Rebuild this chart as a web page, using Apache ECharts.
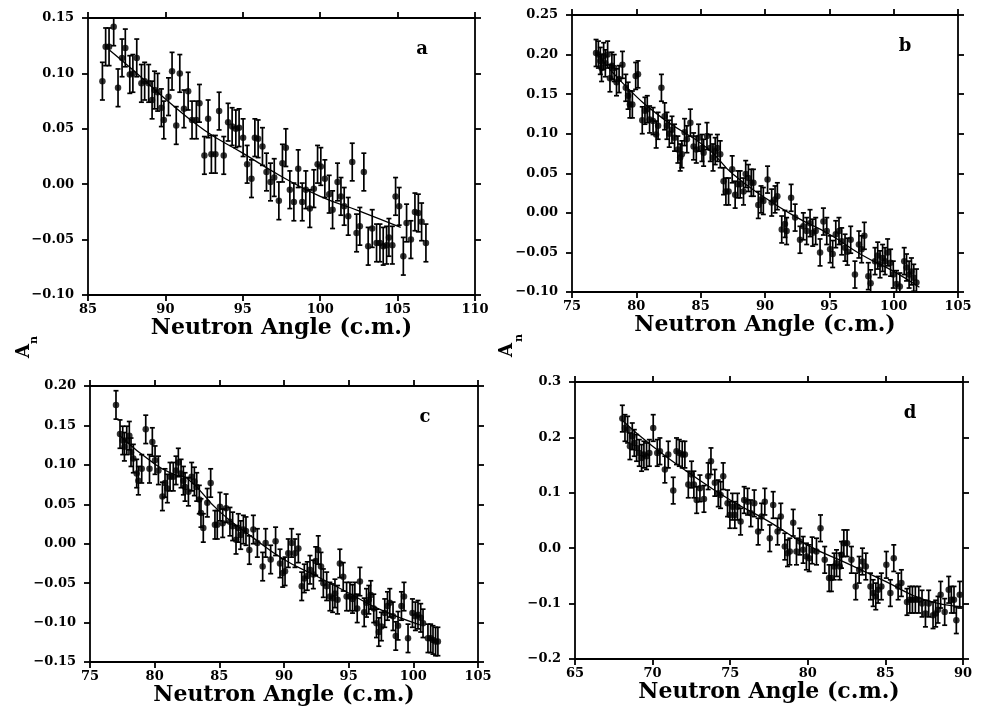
<!DOCTYPE html>
<html>
<head>
<meta charset="UTF-8">
<title>A_n vs Neutron Angle</title>
<script src="https://cdn.jsdelivr.net/npm/echarts@6/dist/echarts.min.js"></script>
<style>
	html, body { margin: 0; padding: 0; background: #fff; }
	#chart { width: 990px; height: 715px; }
</style>
</head>
<body>
<div id="chart"></div>
<script>
// panel a : [angle, A_n]
var ptsA = [[85.93,0.093],[86.14,0.124],[86.36,0.124],[86.66,0.142],[86.94,0.087],[87.2,0.114],[87.41,0.123],[87.7,0.099],[87.9,0.1],[88.15,0.114],
	[88.45,0.091],[88.66,0.093],[88.92,0.091],[89.14,0.076],[89.3,0.085],[89.5,0.083],[89.74,0.069],[89.9,0.058],[90.2,0.079],[90.43,0.102],
	[90.7,0.053],[90.93,0.1],[91.2,0.068],[91.47,0.084],[91.72,0.058],[92.0,0.058],[92.2,0.073],[92.52,0.026],[92.76,0.059],[92.97,0.027],
	[93.23,0.027],[93.47,0.066],[93.77,0.026],[94.05,0.056],[94.31,0.052],[94.55,0.05],[94.76,0.051],[95.02,0.042],[95.28,0.018],[95.56,0.005],
	[95.78,0.042],[95.99,0.041],[96.27,0.034],[96.53,0.011],[96.79,0.002],[97.03,0.006],[97.33,-0.015],[97.56,0.019],[97.78,0.033],[98.04,-0.005],
	[98.3,-0.016],[98.58,0.014],[98.84,-0.016],[99.07,-0.005],[99.33,-0.022],[99.59,-0.004],[99.83,0.018],[100.04,0.016],[100.3,0.005],[100.58,-0.009],
	[100.8,-0.023],[101.12,0.002],[101.34,-0.011],[101.55,-0.02],[101.81,-0.029],[102.07,0.02],[102.35,-0.044],[102.56,-0.038],[102.82,0.011],[103.1,-0.056],
	[103.36,-0.04],[103.64,-0.053],[103.86,-0.053],[104.07,-0.056],[104.29,-0.055],[104.44,-0.048],[104.66,-0.055],[104.87,-0.011],[105.1,-0.02],[105.37,-0.065],
	[105.58,-0.035],[105.86,-0.05],[106.12,-0.025],[106.34,-0.026],[106.55,-0.034],[106.83,-0.053]];
var errA = 0.017;
var fitA = [[86.4,0.121],[88,0.102],[90,0.077],[92.5,0.049],[95,0.028],[97.5,0.007],[100,-0.011],[102.5,-0.024],[105.2,-0.039]];

// panel b
var ptsB = [[76.87,0.202],[77.05,0.2],[77.2,0.192],[77.3,0.183],[77.46,0.198],[77.59,0.189],[77.77,0.2],[77.95,0.17],[78.1,0.186],[78.28,0.183],
	[78.46,0.165],[78.66,0.169],[78.92,0.187],[79.18,0.158],[79.36,0.148],[79.5,0.137],[79.69,0.137],[79.95,0.173],[80.13,0.175],[80.46,0.117],
	[80.67,0.129],[80.85,0.131],[81.03,0.118],[81.3,0.116],[81.54,0.099],[81.69,0.11],[81.95,0.158],[82.2,0.122],[82.38,0.11],[82.56,0.1],
	[82.77,0.105],[82.97,0.095],[83.23,0.08],[83.41,0.07],[83.54,0.074],[83.75,0.102],[83.93,0.093],[84.2,0.114],[84.45,0.084],[84.66,0.08],
	[84.84,0.095],[85.1,0.082],[85.23,0.076],[85.49,0.097],[85.75,0.082],[85.96,0.07],[86.13,0.078],[86.3,0.082],[86.52,0.074],[86.78,0.04],
	[86.96,0.027],[87.17,0.027],[87.45,0.055],[87.68,0.023],[87.89,0.036],[88.07,0.036],[88.33,0.027],[88.5,0.049],[88.71,0.044],[88.93,0.038],
	[89.1,0.038],[89.48,0.01],[89.69,0.017],[89.87,0.015],[90.2,0.042],[90.52,0.013],[90.78,0.017],[90.96,0.021],[91.3,-0.021],[91.55,-0.014],
	[91.68,-0.023],[92.03,0.019],[92.34,-0.006],[92.72,-0.034],[92.98,-0.017],[93.24,-0.023],[93.5,-0.013],[93.71,-0.025],[93.94,-0.023],[94.28,-0.05],
	[94.54,-0.011],[94.8,-0.023],[95.06,-0.046],[95.26,-0.052],[95.5,-0.027],[95.75,-0.023],[95.96,-0.036],[96.22,-0.044],[96.4,-0.049],[96.66,-0.034],
	[96.99,-0.078],[97.3,-0.04],[97.51,-0.046],[97.72,-0.029],[98.03,-0.08],[98.21,-0.089],[98.55,-0.061],[98.76,-0.054],[98.94,-0.065],[99.14,-0.057],
	[99.33,-0.061],[99.53,-0.05],[99.76,-0.063],[99.97,-0.078],[100.22,-0.09],[100.48,-0.093],[100.82,-0.061],[101.0,-0.069],[101.2,-0.078],[101.38,-0.074],
	[101.56,-0.082],[101.77,-0.088]];
var errB = 0.017;
var fitB = [[77,0.2],[79,0.163],[82,0.12],[85.5,0.082],[87.5,0.049],[90,0.019],[92.5,-0.006],[95,-0.027],[97.5,-0.053],[100,-0.074],[102,-0.094]];

// panel c
var ptsC = [[77.01,0.176],[77.32,0.139],[77.53,0.131],[77.66,0.123],[77.84,0.131],[78.04,0.137],[78.17,0.116],[78.35,0.108],[78.61,0.089],[78.74,0.08],
	[79.0,0.095],[79.31,0.145],[79.6,0.095],[79.82,0.129],[80.03,0.106],[80.29,0.093],[80.6,0.06],[80.8,0.077],[80.98,0.07],[81.19,0.085],
	[81.44,0.085],[81.65,0.093],[81.83,0.103],[82.04,0.089],[82.22,0.08],[82.35,0.072],[82.61,0.066],[82.86,0.085],[83.07,0.079],[83.25,0.072],
	[83.45,0.056],[83.58,0.039],[83.76,0.02],[84.07,0.052],[84.33,0.077],[84.66,0.024],[84.84,0.024],[85.05,0.047],[85.26,0.026],[85.52,0.045],
	[85.82,0.028],[86.03,0.022],[86.29,0.005],[86.47,0.02],[86.65,0.011],[86.86,0.018],[87.06,0.016],[87.32,-0.008],[87.63,0.018],[87.94,0.001],
	[88.35,-0.029],[88.58,0.001],[88.97,-0.02],[89.35,0.003],[89.69,-0.025],[89.9,-0.037],[90.08,-0.035],[90.33,-0.012],[90.59,0.001],[90.85,-0.012],
	[91.11,-0.006],[91.37,-0.054],[91.57,-0.044],[91.8,-0.041],[92.01,-0.033],[92.27,-0.039],[92.45,-0.022],[92.65,-0.008],[92.86,-0.029],[93.04,-0.05],
	[93.3,-0.054],[93.55,-0.067],[93.76,-0.069],[93.94,-0.063],[94.14,-0.071],[94.32,-0.025],[94.58,-0.042],[94.84,-0.067],[95.1,-0.067],[95.3,-0.07],
	[95.48,-0.067],[95.66,-0.082],[95.87,-0.048],[96.2,-0.087],[96.38,-0.075],[96.56,-0.071],[96.71,-0.065],[96.94,-0.082],[97.15,-0.101],[97.33,-0.112],
	[97.53,-0.105],[97.79,-0.088],[98.0,-0.079],[98.18,-0.075],[98.43,-0.092],[98.64,-0.117],[98.82,-0.104],[99.08,-0.079],[99.28,-0.067],[99.59,-0.12],
	[99.93,-0.088],[100.16,-0.092],[100.36,-0.09],[100.57,-0.094],[100.75,-0.101],[101.13,-0.12],[101.34,-0.12],[101.52,-0.122],[101.72,-0.124],[101.9,-0.124]];
var errC = 0.018;
var fitC = [[77.3,0.137],[80,0.101],[81.5,0.088],[82.5,0.083],[85,0.041],[87.5,0.009],[90,-0.02],[92.5,-0.041],[95,-0.0625],[97.5,-0.084],[100.5,-0.103]];

// panel d
var ptsD = [[68.05,0.234],[68.22,0.217],[68.39,0.214],[68.54,0.184],[68.69,0.202],[68.82,0.19],[68.97,0.181],[69.14,0.172],[69.29,0.163],[69.44,0.169],
	[69.61,0.166],[69.79,0.172],[70.04,0.217],[70.3,0.172],[70.47,0.175],[70.79,0.142],[71.01,0.169],[71.33,0.104],[71.54,0.175],[71.72,0.172],
	[71.91,0.169],[72.08,0.169],[72.3,0.115],[72.51,0.133],[72.66,0.115],[72.84,0.087],[73.05,0.108],[73.31,0.089],[73.58,0.13],[73.76,0.157],
	[74.01,0.118],[74.23,0.099],[74.38,0.096],[74.55,0.13],[74.83,0.081],[74.98,0.06],[75.15,0.075],[75.3,0.06],[75.47,0.075],[75.67,0.048],
	[75.9,0.087],[76.12,0.084],[76.33,0.063],[76.55,0.081],[76.8,0.03],[77.02,0.057],[77.23,0.084],[77.55,0.018],[77.77,0.078],[78.05,0.03],
	[78.26,0.057],[78.52,0.003],[78.69,-0.009],[78.84,-0.006],[79.06,0.046],[79.27,-0.006],[79.48,0.012],[79.7,-0.003],[79.91,-0.015],[80.09,-0.018],
	[80.28,-0.004],[80.56,-0.006],[80.82,0.036],[81.09,-0.021],[81.37,-0.054],[81.52,-0.054],[81.7,-0.033],[81.85,-0.027],[82.06,-0.033],[82.17,-0.012],
	[82.32,0.009],[82.53,0.009],[82.81,-0.021],[83.09,-0.069],[83.31,-0.039],[83.52,-0.024],[83.74,-0.033],[84.04,-0.069],[84.21,-0.081],[84.38,-0.087],
	[84.53,-0.075],[84.74,-0.069],[85.06,-0.03],[85.32,-0.081],[85.54,-0.018],[85.82,-0.069],[86.03,-0.063],[86.39,-0.097],[86.57,-0.093],[86.74,-0.093],
	[86.93,-0.093],[87.15,-0.093],[87.36,-0.1],[87.58,-0.118],[87.79,-0.1],[88.07,-0.121],[88.24,-0.118],[88.39,-0.111],[88.56,-0.084],[88.82,-0.115],
	[89.08,-0.075],[89.25,-0.093],[89.42,-0.093],[89.57,-0.13],[89.79,-0.084]];
var errD = 0.024;
var fitD = [[68,0.232],[70,0.184],[72.5,0.133],[75,0.087],[77.5,0.048],[80,0.005],[82.5,-0.027],[85,-0.06],[87.5,-0.093],[90,-0.106]];

var panels = [
	{pts: ptsA, err: errA, fit: fitA, xMin: 85, xMax: 110, yMin: -0.10, yMax: 0.15, yStep: 0.05, dec: 2, left: 88, top: 18, width: 387, height: 277},
	{pts: ptsB, err: errB, fit: fitB, xMin: 75, xMax: 105, yMin: -0.10, yMax: 0.25, yStep: 0.05, dec: 2, left: 572, top: 15, width: 386, height: 277},
	{pts: ptsC, err: errC, fit: fitC, xMin: 75, xMax: 105, yMin: -0.15, yMax: 0.20, yStep: 0.05, dec: 2, left: 90, top: 386, width: 388, height: 276},
	{pts: ptsD, err: errD, fit: fitD, xMin: 65, xMax: 90, yMin: -0.2, yMax: 0.3, yStep: 0.1, dec: 1, left: 575, top: 382, width: 388, height: 277}
];
var letters = ['a', 'b', 'c', 'd'];

var serif = 'DejaVu Serif';
var axisLineStyle = {color: '#000', width: 1.8};
var tickLabel = {color: '#000', fontFamily: serif, fontWeight: 'bold', fontSize: 13};

function yFormatter(dec) {
	return function(v) {
		if (Math.abs(v) < 1e-9) v = 0;
		return v.toFixed(dec).replace('-', '\u2212');
	};
}

// error bar with small caps
function errorBar(params, api) {
	var x = api.value(0), y = api.value(1), e = api.value(2);
	var hi = api.coord([x, y + e]);
	var lo = api.coord([x, y - e]);
	var w = 2.5;
	var st = {stroke: '#000', lineWidth: 1.7};
	return {
		type: 'group',
		children: [
			{type: 'line', shape: {x1: hi[0], y1: hi[1], x2: lo[0], y2: lo[1]}, style: st},
			{type: 'line', shape: {x1: hi[0] - w, y1: hi[1], x2: hi[0] + w, y2: hi[1]}, style: st},
			{type: 'line', shape: {x1: lo[0] - w, y1: lo[1], x2: lo[0] + w, y2: lo[1]}, style: st}
		]
	};
}

var grids = [], xAxes = [], yAxes = [], series = [], graphics = [];
panels.forEach(function(p, i) {
	grids.push({left: p.left, top: p.top, width: p.width, height: p.height, containLabel: false, outerBoundsMode: 'none'});
	xAxes.push({
		type: 'value', gridIndex: i, position: 'bottom', min: p.xMin, max: p.xMax, interval: 5,
		name: 'Neutron Angle (c.m.)', nameLocation: 'middle', nameGap: 22,
		nameTextStyle: {color: '#000', fontFamily: serif, fontWeight: 'bold', fontSize: 22},
		axisLine: {onZero: false, lineStyle: axisLineStyle},
		axisTick: {inside: false, length: 6, lineStyle: axisLineStyle},
		axisLabel: Object.assign({margin: 8, showMinLabel: true, showMaxLabel: true}, tickLabel),
		splitLine: {show: false}
	});
	xAxes.push({
		type: 'value', gridIndex: i, position: 'top', min: p.xMin, max: p.xMax, interval: 5,
		axisLine: {onZero: false, lineStyle: axisLineStyle},
		axisTick: {inside: false, length: 6, lineStyle: axisLineStyle},
		axisLabel: {show: false},
		splitLine: {show: false}
	});
	yAxes.push({
		type: 'value', gridIndex: i, position: 'left', min: p.yMin, max: p.yMax, interval: p.yStep,
		axisLine: {onZero: false, lineStyle: axisLineStyle},
		axisTick: {inside: false, length: 6, lineStyle: axisLineStyle},
		axisLabel: Object.assign({margin: 14, showMinLabel: true, showMaxLabel: true, formatter: yFormatter(p.dec)}, tickLabel),
		splitLine: {show: false}
	});
	yAxes.push({
		type: 'value', gridIndex: i, position: 'right', min: p.yMin, max: p.yMax, interval: p.yStep,
		axisLine: {onZero: false, lineStyle: axisLineStyle},
		axisTick: {inside: false, length: 6, lineStyle: axisLineStyle},
		axisLabel: {show: false},
		splitLine: {show: false}
	});
	series.push({
		type: 'custom', xAxisIndex: 2 * i, yAxisIndex: 2 * i, clip: true,
		renderItem: errorBar,
		encode: {x: 0, y: 1},
		data: p.pts.map(function(d) { return [d[0], d[1], p.err]; }),
		silent: true, z: 2
	});
	series.push({
		type: 'scatter', xAxisIndex: 2 * i, yAxisIndex: 2 * i,
		symbol: 'circle', symbolSize: 6.5,
		itemStyle: {color: '#000'},
		data: p.pts, silent: true, z: 3
	});
	series.push({
		type: 'line', xAxisIndex: 2 * i, yAxisIndex: 2 * i,
		smooth: true, showSymbol: false,
		lineStyle: {color: '#000', width: 1.3},
		data: p.fit, silent: true, z: 1
	});
	graphics.push({
		type: 'text', x: p.left + p.width - 53, y: p.top + 31,
		style: {text: letters[i], fill: '#000', fontFamily: serif, fontWeight: 'bold', fontSize: 18, align: 'center', verticalAlign: 'middle'}
	});
});

// A_n axis labels (between rows)
[[24, 351, 34, 340], [507, 350, 519, 338]].forEach(function(q) {
	graphics.push({
		type: 'text', x: q[0], y: q[1], rotation: Math.PI / 2,
		style: {text: 'A', fill: '#000', fontFamily: serif, fontWeight: 'bold', fontSize: 18, align: 'center', verticalAlign: 'middle'}
	});
	graphics.push({
		type: 'text', x: q[2], y: q[3], rotation: Math.PI / 2,
		style: {text: 'n', fill: '#000', fontFamily: serif, fontWeight: 'bold', fontSize: 11, align: 'center', verticalAlign: 'middle'}
	});
});

var chart = echarts.init(document.getElementById('chart'));
chart.setOption({
	backgroundColor: '#fff',
	animation: false,
	grid: grids,
	xAxis: xAxes,
	yAxis: yAxes,
	series: series,
	graphic: graphics
});
</script>
</body>
</html>
